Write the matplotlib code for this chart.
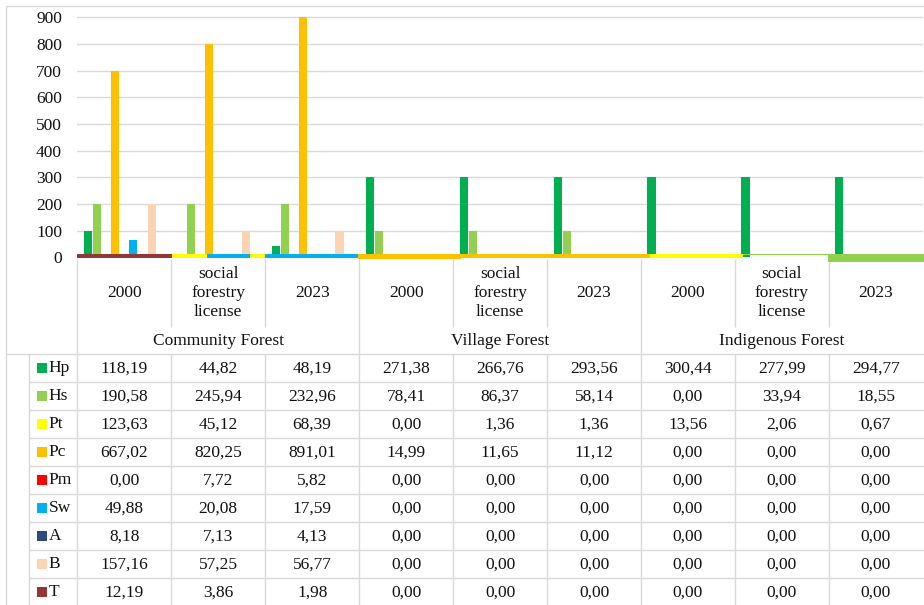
import matplotlib
matplotlib.use("Agg")
import matplotlib.pyplot as plt
from matplotlib.patches import Rectangle

plt.rcParams['font.family'] = ['Liberation Serif', 'DejaVu Serif']

# ---------------- data ----------------
series = ["Hp", "Hs", "Pt", "Pc", "Pm", "Sw", "A", "B", "T"]
colors = ["#00B050", "#92D050", "#FFFF00", "#FFC000", "#FF0000",
          "#00B0F0", "#2F4B7C", "#FBD4B4", "#943634"]
sub_labels = ["2000", "social\nforestry\nlicense", "2023"] * 3
groups = ["Community Forest", "Village Forest", "Indigenous Forest"]

# bar heights as drawn in the picture
hp_bar = [100, 0, 44, 300, 300, 300, 300, 300, 300]
hs_bar = [200, 200, 200, 100, 100, 100, 0, 0, 0]
pt_bar = [0, 0, 0, 0, 0, 0, 0, 0, 0]
pc_bar = [700, 800, 900, 0, 0, 0, 0, 0, 0]
pm_bar = [0, 0, 0, 0, 0, 0, 0, 0, 0]
sw_bar = [65, 0, 0, 0, 0, 0, 0, 0, 0]
a_bar = [0, 0, 0, 0, 0, 0, 0, 0, 0]
b_bar = [200, 100, 100, 0, 0, 0, 0, 0, 0]
t_bar = [0, 0, 0, 0, 0, 0, 0, 0, 0]
bar_values = [hp_bar, hs_bar, pt_bar, pc_bar, pm_bar, sw_bar, a_bar, b_bar, t_bar]

# data table values
hp_tab = [118.19, 44.82, 48.19, 271.38, 266.76, 293.56, 300.44, 277.99, 294.77]
hs_tab = [190.58, 245.94, 232.96, 78.41, 86.37, 58.14, 0.00, 33.94, 18.55]
pt_tab = [123.63, 45.12, 68.39, 0.00, 1.36, 1.36, 13.56, 2.06, 0.67]
pc_tab = [667.02, 820.25, 891.01, 14.99, 11.65, 11.12, 0.00, 0.00, 0.00]
pm_tab = [0.00, 7.72, 5.82, 0.00, 0.00, 0.00, 0.00, 0.00, 0.00]
sw_tab = [49.88, 20.08, 17.59, 0.00, 0.00, 0.00, 0.00, 0.00, 0.00]
a_tab = [8.18, 7.13, 4.13, 0.00, 0.00, 0.00, 0.00, 0.00, 0.00]
b_tab = [157.16, 57.25, 56.77, 0.00, 0.00, 0.00, 0.00, 0.00, 0.00]
t_tab = [12.19, 3.86, 1.98, 0.00, 0.00, 0.00, 0.00, 0.00, 0.00]
table_values = [hp_tab, hs_tab, pt_tab, pc_tab, pm_tab, sw_tab, a_tab, b_tab, t_tab]

y_ticks = [0, 100, 200, 300, 400, 500, 600, 700, 800, 900]

# ---------------- layout (pixels) ----------------
W, H = 924, 605
left_px, cat_px = 77.3, 93.95
top_px, zero_px = 6.0, 257.3
px_per_unit = 26.67 / 100.0
FS = 12.5
GRID = "#D9D9D9"
TXT = "#111111"
n_cat = len(sub_labels)

fig = plt.figure(figsize=(W / 100, H / 100), dpi=100)
fig.patch.set_facecolor("white")

ax = fig.add_axes([left_px / W, (H - zero_px) / H,
                   n_cat * cat_px / W, (zero_px - top_px) / H])
ax.set_xlim(-0.5, n_cat - 0.5)
ax.set_ylim(0, (zero_px - top_px) / px_per_unit)
for s in ax.spines.values():
    s.set_visible(False)
ax.set_xticks([])
ax.set_yticks(y_ticks)
ax.set_yticklabels([str(v) for v in y_ticks], fontsize=FS, color=TXT)
ax.tick_params(axis="y", length=0, pad=11)
ax.yaxis.grid(True, color=GRID, linewidth=1.0)
ax.set_axisbelow(True)

slot = 0.097
bw = 0.086
for si, (vals, c) in enumerate(zip(bar_values, colors)):
    xs = [ci + (si - 4) * slot for ci in range(n_cat)]
    ax.bar(xs, vals, width=bw, color=c, linewidth=0, zorder=3)

# ---------------- overlay for table ----------------
ov = fig.add_axes([0, 0, 1, 1])
ov.set_xlim(0, W)
ov.set_ylim(H, 0)
ov.axis("off")
ov.patch.set_visible(False)

def vline(x, y0, y1):
    ov.plot([x, x], [y0, y1], color=GRID, linewidth=1.0, solid_capstyle="butt")

def hline(y, x0, x1):
    ov.plot([x0, x1], [y, y], color=GRID, linewidth=1.0, solid_capstyle="butt")

# outer border
vline(6, 6, H)
hline(6, 6, W)

# coloured strips along the baseline (as in the picture)
strips = [
    (77.3, 172.3, 254.0, 258.3, "#943634"),
    (172.3, 206.7, 254.0, 258.3, "#FFFF00"),
    (206.7, 250.0, 254.0, 258.3, "#00B0F0"),
    (250.0, 265.3, 254.0, 258.3, "#FFFF00"),
    (265.3, 358.3, 254.0, 258.3, "#00B0F0"),
    (358.3, 460.7, 254.0, 259.3, "#FFC000"),
    (460.7, 650.0, 254.0, 258.0, "#FFC000"),
    (650.0, 742.7, 254.0, 258.0, "#FFFF00"),
    (742.7, 828.0, 254.0, 255.2, "#92D050"),
    (828.0, 924.0, 254.0, 261.7, "#92D050"),
]
for x0, x1, y0, y1, c in strips:
    ov.add_patch(Rectangle((x0, y0), x1 - x0, y1 - y0, facecolor=c,
                           edgecolor="none", zorder=4))

cat_top = 258.5
sub_bottom = 327
grp_bottom = 354.3
row_h = 28.0
legend_left = 29.3

bounds = [left_px + i * cat_px for i in range(n_cat + 1)]
# category label area
for i, b in enumerate(bounds[:-1]):
    if i % 3 == 0:
        vline(b, cat_top, grp_bottom)
    else:
        vline(b, cat_top, sub_bottom)
for i, lab in enumerate(sub_labels):
    cx = left_px + (i + 0.5) * cat_px
    ov.text(cx, 293, lab, ha="center", va="center", fontsize=FS,
            linespacing=1.22, color=TXT)
for g, name in enumerate(groups):
    cx = left_px + (3 * g + 1.5) * cat_px
    ov.text(cx, 340.7, name, ha="center", va="center", fontsize=FS, color=TXT)

# data table grid
hline(grp_bottom, 6, W)
n_rows = len(series)
for r in range(1, n_rows + 1):
    hline(grp_bottom + r * row_h, legend_left, W)
vline(legend_left, grp_bottom, H)
for b in bounds[:-1]:
    vline(b, grp_bottom, H)

def fmt(v):
    return f"{v:.2f}".replace(".", ",")

for r, (name, c, vals) in enumerate(zip(series, colors, table_values)):
    cy = grp_bottom + (r + 0.5) * row_h
    ov.add_patch(Rectangle((37.3, cy - 5), 10, 10, facecolor=c,
                           edgecolor="none"))
    ov.text(48.8, cy, name, ha="left", va="center", fontsize=FS, color=TXT)
    for i, v in enumerate(vals):
        cx = left_px + (i + 0.5) * cat_px
        ov.text(cx, cy, fmt(v), ha="center", va="center", fontsize=FS,
                color=TXT)

fig.savefig("out.png", dpi=100)
